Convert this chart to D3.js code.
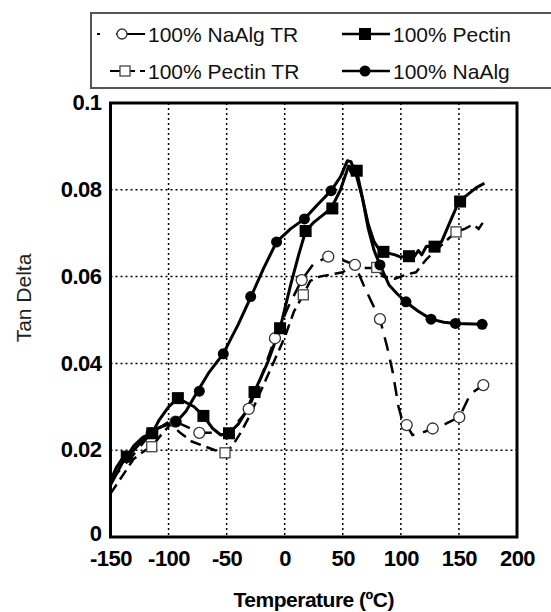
<!DOCTYPE html>
<html><head><meta charset="utf-8">
<script src="https://cdn.jsdelivr.net/npm/d3@7"></script>
<style>body{margin:0;background:#fff;} svg{display:block;}</style>
</head><body>
<svg id="c" width="551" height="612"></svg>
<script>
// ---- data ----
const xTicks = [-150,-100,-50,0,50,100,150,200];
const yTicks = [0,0.02,0.04,0.06,0.08,0.1];
const yTickLabels = ["0","0.02","0.04","0.06","0.08","0.1"];
const seriesNames = ["100% NaAlg TR","100% Pectin","100% Pectin TR","100% NaAlg"];

const naalgLine = [[-150,0.012],[-140,0.017],[-130,0.020],[-120,0.023],[-110,0.025],[-100,0.026],[-93,0.0266],[-85,0.029],[-75,0.0336],[-65,0.038],[-53,0.0422],[-40,0.049],[-29,0.0554],[-18,0.062],[-7,0.068],[5,0.071],[17,0.0733],[28,0.0765],[40,0.0798],[48,0.083],[54,0.0867],[57,0.0865],[62,0.083],[67,0.078],[72,0.071],[77,0.066],[82,0.0627],[90,0.058],[97,0.056],[104,0.0542],[115,0.052],[126,0.0502],[137,0.0495],[147,0.0492],[170,0.049]];
const naalgMarks = [[-115,0.024],[-93.6,0.0266],[-73.5,0.0336],[-52.9,0.0422],[-29.3,0.0554],[-7,0.068],[17,0.0733],[40,0.0798],[60,0.0845],[82,0.0627],[104.4,0.0542],[126,0.0502],[147,0.0492],[170,0.049]];

const pectinLine = [[-150,0.013],[-145,0.016],[-140,0.018],[-136,0.0185],[-130,0.021],[-122,0.023],[-114,0.024],[-108,0.027],[-100,0.030],[-92,0.032],[-85,0.031],[-78,0.030],[-70,0.0279],[-62,0.025],[-55,0.0235],[-48,0.0239],[-40,0.026],[-33,0.029],[-26,0.0335],[-15,0.040],[-4,0.0481],[5,0.058],[12,0.065],[18,0.0705],[25,0.0725],[32,0.074],[40,0.0757],[48,0.080],[55,0.0855],[62,0.0844],[67,0.078],[72,0.072],[77,0.068],[82,0.066],[85,0.0657],[95,0.065],[100,0.0645],[106,0.0647],[110,0.064],[115,0.066],[118,0.065],[122,0.067],[128,0.0669],[135,0.068],[143,0.073],[150,0.0773],[158,0.079],[165,0.0805],[172,0.0815]];
const pectinMarks = [[-136,0.0185],[-114,0.0239],[-92,0.032],[-70,0.0279],[-48,0.0239],[-26,0.0334],[-4,0.0481],[18,0.0705],[41,0.0757],[62,0.0844],[85,0.0657],[107,0.0647],[129,0.0669],[151,0.0773]];

const naalgTRLine = [[-150,0.013],[-130,0.019],[-115,0.024],[-100,0.0265],[-94,0.0266],[-85,0.0255],[-73.5,0.024],[-62,0.024],[-52,0.0235],[-42,0.026],[-31,0.0295],[-20,0.037],[-8.4,0.0458],[3,0.053],[14.6,0.0592],[25,0.063],[37.5,0.0646],[48,0.064],[60.5,0.0627],[68,0.058],[75,0.054],[82,0.0502],[88,0.044],[93,0.038],[98,0.030],[102,0.026],[105,0.0258],[110,0.0235],[118,0.024],[127.4,0.025],[138,0.026],[150.3,0.0276],[160,0.033],[171,0.035]];
const naalgTRMarks = [[-94,0.0266],[-73.5,0.024],[-31,0.0295],[-8.4,0.0458],[14.6,0.0592],[37.5,0.0646],[60.5,0.0627],[82,0.0502],[105,0.0258],[127.4,0.025],[150.3,0.0276],[171,0.035]];

const pectinTRLine = [[-150,0.010],[-140,0.014],[-130,0.018],[-120,0.020],[-114.5,0.0208],[-105,0.024],[-98,0.026],[-90,0.024],[-80,0.022],[-70,0.021],[-60,0.020],[-51.4,0.0194],[-45,0.021],[-38,0.024],[-30,0.028],[-20,0.034],[-10,0.040],[0,0.046],[8,0.052],[16,0.0558],[22,0.059],[30,0.060],[40,0.0605],[50,0.061],[60,0.063],[68,0.062],[75,0.062],[79.2,0.0621],[85,0.060],[95,0.0595],[105,0.0605],[113,0.061],[122,0.064],[130,0.066],[138,0.068],[147.5,0.0703],[155,0.071],[162,0.072],[167,0.071],[172,0.073]];
const pectinTRMarks = [[-114.5,0.0208],[-51.4,0.0194],[16,0.0558],[79.2,0.0621],[147.5,0.0703]];

// ---- chart ----
const svg = d3.select("#c");
const L=110.5, R=517, T=103, B=537;
const x = d3.scaleLinear().domain([-150,200]).range([L,R]);
const y = d3.scaleLinear().domain([0,0.1]).range([B,T]);

// grid
const g = svg.append("g");
g.selectAll(".gx").data(xTicks.slice(1,-1)).enter().append("line")
  .attr("x1",d=>x(d)).attr("x2",d=>x(d)).attr("y1",T).attr("y2",B)
  .attr("stroke","#000").attr("stroke-width",1.5).attr("stroke-dasharray","2,3");
g.selectAll(".gy").data(yTicks.slice(1,-1)).enter().append("line")
  .attr("y1",d=>y(d)).attr("y2",d=>y(d)).attr("x1",L).attr("x2",R)
  .attr("stroke","#000").attr("stroke-width",1.5).attr("stroke-dasharray","2,3");

// axes via d3
const xAxis = d3.axisBottom(x).tickValues(xTicks).tickSize(0).tickPadding(10).tickFormat(d=>d);
const yAxis = d3.axisLeft(y).tickValues(yTicks).tickSize(0).tickPadding(9).tickFormat((d,i)=>yTickLabels[i]);
const ax = svg.append("g").attr("transform",`translate(0,${B})`).call(xAxis);
const ay = svg.append("g").attr("transform",`translate(${L},0)`).call(yAxis);
[ax,ay].forEach(a=>{
  a.select(".domain").remove();
  a.selectAll("text").attr("font-family","Liberation Sans, Arial, sans-serif")
   .attr("font-weight","bold").attr("font-size",22).attr("fill","#000").attr("letter-spacing",-0.5);
});
ax.selectAll("text").attr("dy","0.71em").attr("y",13);
ay.selectAll("text").attr("dy",d=>d===0?"0.18em":"0.3em");

const line = d3.line().x(d=>x(d[0])).y(d=>y(d[1])).curve(d3.curveLinear);

// series lines
svg.append("path").datum(pectinTRLine).attr("d",line).attr("fill","none")
  .attr("stroke","#000").attr("stroke-width",2.5).attr("stroke-dasharray","11,6");
svg.append("path").datum(naalgTRLine).attr("d",line).attr("fill","none")
  .attr("stroke","#000").attr("stroke-width",2.5).attr("stroke-dasharray","14,9");
svg.append("path").datum(pectinLine).attr("d",line).attr("fill","none")
  .attr("stroke","#000").attr("stroke-width",3).attr("stroke-linejoin","round");
svg.append("path").datum(naalgLine).attr("d",line).attr("fill","none")
  .attr("stroke","#000").attr("stroke-width",3).attr("stroke-linejoin","round");

// markers
svg.selectAll(".ptr").data(pectinTRMarks).enter().append("rect")
  .attr("x",d=>x(d[0])-5).attr("y",d=>y(d[1])-5).attr("width",10).attr("height",10)
  .attr("fill","#fff").attr("stroke","#444").attr("stroke-width",1.3);
svg.selectAll(".ntr").data(naalgTRMarks).enter().append("circle")
  .attr("cx",d=>x(d[0])).attr("cy",d=>y(d[1])).attr("r",5.5)
  .attr("fill","#fff").attr("stroke","#333").attr("stroke-width",1.3);
svg.selectAll(".pm").data(pectinMarks).enter().append("rect")
  .attr("x",d=>x(d[0])-6).attr("y",d=>y(d[1])-6).attr("width",12).attr("height",12)
  .attr("fill","#000");
svg.selectAll(".nm").data(naalgMarks).enter().append("circle")
  .attr("cx",d=>x(d[0])).attr("cy",d=>y(d[1])).attr("r",5.5).attr("fill","#000");

// frame
svg.append("rect").attr("x",L).attr("y",T).attr("width",R-L).attr("height",B-T)
  .attr("fill","none").attr("stroke","#000").attr("stroke-width",3);

// axis titles
svg.append("text").attr("x",(L+R)/2).attr("y",607).attr("text-anchor","middle")
  .attr("font-family","Liberation Sans, Arial, sans-serif").attr("font-weight","bold")
  .attr("font-size",21).attr("letter-spacing",-0.5).text("Temperature (ºC)");
svg.append("text").attr("transform","translate(31,298) rotate(-90)").attr("text-anchor","middle")
  .attr("font-family","Liberation Sans, Arial, sans-serif").attr("font-size",21).attr("fill","#222")
  .text("Tan Delta");

// legend
const lg = svg.append("g");
lg.append("rect").attr("x",91).attr("y",13).attr("width",470).attr("height",75)
  .attr("fill","#fff").attr("stroke","#555").attr("stroke-width",2);
const legendPos = [[97,145,34],[342,390,34],[97,145,71],[342,390,71]];
const legendDash = ["3,16,30,0","none","10,5","none"];
seriesNames.forEach((name,i)=>{
  const [x0,x1,yy]=legendPos[i];
  lg.append("line").attr("x1",i===2?110:x0).attr("x2",x1).attr("y1",yy).attr("y2",yy)
    .attr("stroke","#000").attr("stroke-width",i%2===1?2.5:2)
    .attr("stroke-dasharray",legendDash[i]);
  if(i===0) lg.append("circle").attr("cx",122).attr("cy",yy).attr("r",5).attr("fill","#fff").attr("stroke","#333").attr("stroke-width",1.3);
  if(i===2) lg.append("rect").attr("x",120).attr("y",yy-5).attr("width",10).attr("height",10).attr("fill","#fff").attr("stroke","#444").attr("stroke-width",1.3);
  if(i===1) lg.append("rect").attr("x",359).attr("y",yy-6).attr("width",12).attr("height",12).attr("fill","#000");
  if(i===3) lg.append("circle").attr("cx",365).attr("cy",yy).attr("r",5.5).attr("fill","#000");
  lg.append("text").attr("x",x1+3).attr("y",yy).attr("dy","0.36em")
    .attr("font-family","Liberation Sans, Arial, sans-serif").attr("font-size",21).attr("fill","#111")
    .text(name);
});
</script>
</body></html>
